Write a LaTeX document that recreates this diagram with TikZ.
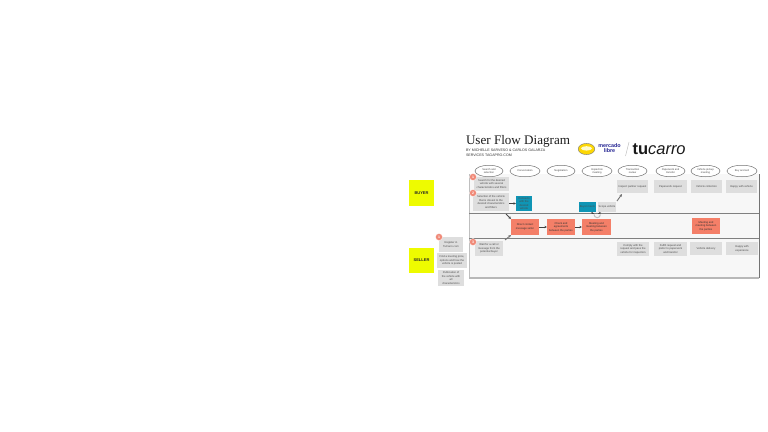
\documentclass[tikz,border=0pt]{standalone}
\usepackage{fontspec}
\setmainfont{Liberation Sans}
\newfontfamily\serifT{Liberation Serif}
\usetikzlibrary{arrows.meta,calc,shapes.geometric}
\definecolor{cgrey}{HTML}{DEDEDE}
\definecolor{cred}{HTML}{F47F68}
\definecolor{cteal}{HTML}{0F95B5}
\definecolor{cyel}{HTML}{EEFB00}
\definecolor{cline}{HTML}{808080}
\definecolor{ctxt}{HTML}{4A4A4A}
\definecolor{cnum}{HTML}{F08A78}
\newcommand{\boxnode}[7]{% name style x0 y0 x1 y1 text
 \node[#2,minimum width=#5pt-#3pt,minimum height=#6pt-#4pt] (#1) at ({(#3+#5)/2},{-(#4+#6)/2}) {#7};}
\tikzset{
 x=1pt,y=1pt,
 base/.style={inner sep=0pt,outer sep=0pt,align=center,font=\fontsize{2.7}{3.6}\selectfont},
 greybox/.style={base,fill=cgrey,text=ctxt},
 redbox/.style={base,fill=cred,text=black!80},
 tealbox/.style={base,fill=cteal,text=black!70},
 sticky/.style={base,fill=cyel,text=black!85,font=\bfseries\fontsize{4}{4}\selectfont},
 phase/.style={base,draw=black!55,line width=.5pt,fill=white,ellipse,text=ctxt,font=\fontsize{2.6}{3.2}\selectfont},
 numdot/.style={circle,fill=cnum,draw=white,line width=.3pt,inner sep=0pt,minimum size=7pt,text=white,font=\bfseries\fontsize{3.5}{4}\selectfont},
 lane/.style={draw=cline,line width=1pt},
 darrow/.style={-{Stealth[length=2.6pt,width=2.4pt]},draw=black!75,line width=.5pt},
 garrow/.style={-{Stealth[length=2.8pt,width=2.6pt]},draw=black!55,line width=.9pt},
 head/.style={inner sep=0pt,outer sep=0pt,anchor=west,text=black!80}
}
\begin{document}
\begin{tikzpicture}
\useasboundingbox (0,0) rectangle (768,-431);
% frame
\fill[black!3] (469,-174) rectangle (759,-278);
\draw[draw=black!55,line width=.6pt] (759,-174) -- (759,-278);
\draw[draw=black!25,line width=.9pt] (469,-174) -- (469,-278);
\draw[draw=black!28,line width=1.1pt] (469,-278) -- (759,-278);
\draw[lane] (469,-213.5) -- (759,-213.5);
\draw[lane] (469,-238) -- (759,-238);
% title
\node[head,text=black!90,font=\serifT\fontsize{13.1}{14}\selectfont] (title) at (466,-141) {User Flow Diagram};
\node[head,font=\fontsize{3.6}{4}\selectfont] (sub1) at (466,-150.2) {BY MICHELLE SARVESO \& CARLOS GALARZA};
\node[head,font=\fontsize{3.6}{4}\selectfont] (sub2) at (466,-155.2) {SERVICES TAGAPRO.COM};
% logos
\fill[draw=black!55,line width=.4pt,fill=yellow!75!orange] (586.5,-149) ellipse [x radius=8.3pt,y radius=5.6pt];
\fill[white!80!yellow] (586.5,-148.4) ellipse [x radius=5.5pt,y radius=2.2pt];
\node[base,text=blue!50!black!85,font=\bfseries\fontsize{5.4}{5}\selectfont] (ml) at (609.5,-148.5) {mercado\\libre};
\draw[draw=black!25,line width=.5pt] (629,-142) -- (625.5,-156);
\node[head,text=black!90,font=\fontsize{16.5}{16}\selectfont] (tc) at (632.5,-149.5) {\textbf{tu}\textit{carro}};
% phases
\foreach \n/\xa/\xb/\t in {p1/475/503/Search and\\selection,p2/510/540/Conversation,p3/547/575/Negotiation,p4/582/612/Inspection\\meeting,p5/618/647/Transaction\\review,p6/656/685/Paperwork and\\transfer,p7/691/720/Vehicle pickup\\meeting,p8/727/757/Buy and sell}{
 \node[phase,minimum width=\xb pt-\xa pt,minimum height=11.5pt] (\n) at ({(\xa+\xb)/2},-171) {\t};
}
% stickies
\boxnode{buyer}{sticky}{409}{180}{434}{206}{BUYER}
\boxnode{seller}{sticky}{409}{248}{434}{273}{SELLER}
% grey boxes
\boxnode{g1}{greybox}{474}{177}{509}{191}{Search for the desired\\vehicle with several\\characteristics and filters}
\boxnode{g2}{greybox}{473}{193}{509}{211}{Selection of the vehicle\\that is closest to the\\desired characteristics\\and filters}
\boxnode{t1}{tealbox}{516}{196}{532}{211}{Connects\\with the\\desired\\vehicle}
\boxnode{t2}{tealbox}{579}{202}{596}{212}{Buyer meets}
\boxnode{g3}{greybox}{598}{202}{616}{212}{Scope vehicle}
\boxnode{r1a}{greybox}{617}{180}{648}{193}{Inspect partner request}
\boxnode{r1b}{greybox}{654}{180}{687}{193}{Paperwork request}
\boxnode{r1c}{greybox}{691}{180}{722}{193}{Vehicle collection}
\boxnode{r1d}{greybox}{726}{180}{757}{193}{Happy with vehicle}
\boxnode{b0}{greybox}{475}{241}{503}{256}{Wait for a call or\\message from the\\potential buyer}
\boxnode{b1}{greybox}{617}{242}{649}{256}{Comply with the\\request and pass the\\vehicle for inspection}
\boxnode{b2}{greybox}{654}{242}{687}{256}{Fulfill request and\\prefer to paperwork\\and transfer}
\boxnode{b3}{greybox}{690}{242}{722}{255}{Vehicle delivery}
\boxnode{b4}{greybox}{726}{242}{758}{255}{Happy with\\experience}
\boxnode{s1}{greybox}{439}{237}{463}{252}{Register in\\TuCarro.com}
\boxnode{s2}{greybox}{437}{253}{467}{268}{Find a leveling price,\\options and how the\\vehicle is posted}
\boxnode{s3}{greybox}{438}{270}{464}{286}{Publication of\\the vehicle with\\all\\characteristics}
\boxnode{m1}{redbox}{511}{219}{539}{235}{Direct contact\\message seller}
\boxnode{m2}{redbox}{547}{219}{575}{235}{Check and\\agreements\\between the parties}
\boxnode{m3}{redbox}{582}{219}{611}{235}{Meeting and\\meeting between\\the parties}
\boxnode{m4}{redbox}{692}{218}{720}{234}{Meeting and\\meeting between\\the parties}
% number dots
\node[numdot] (n1) at (473,-177) {1};
\node[numdot] (n2) at (473,-193) {2};
\node[numdot] (n3) at (473,-242) {3};
\node[numdot] (n4) at (439,-237) {1};
% connectors
\draw[darrow] (g2.east|-t1.west) -- (t1.west);
\coordinate (a1) at ($(g2.south east)+(-3,-3)$);
\draw[garrow,draw=black!70] (a1) -- (m1.north west);
\coordinate (a2) at ($(b0.north east)+(2,1)$);
\draw[garrow] (a2) -- (m1.south west);
\draw[darrow] (m1) -- (m2);
\draw[darrow] (m2) -- (m3);
\coordinate (a3) at ($(g3.north east)+(1,1)$);
\coordinate (a4) at ($(r1a.south west)+(5,-1)$);
\draw[garrow] (a3) -- (a4);
\coordinate (ca) at (591,-212.5);
\coordinate (cb) at (601,-212.5);
\draw[darrow,line width=.4pt] (ca) -- ++(3,-1.5);
\draw[darrow,line width=.4pt] (cb) -- ++(-3,-1.5);
\draw[draw=black!25,line width=1pt] (594,-214.5) arc (180:360:3.2pt);
\end{tikzpicture}
\end{document}
